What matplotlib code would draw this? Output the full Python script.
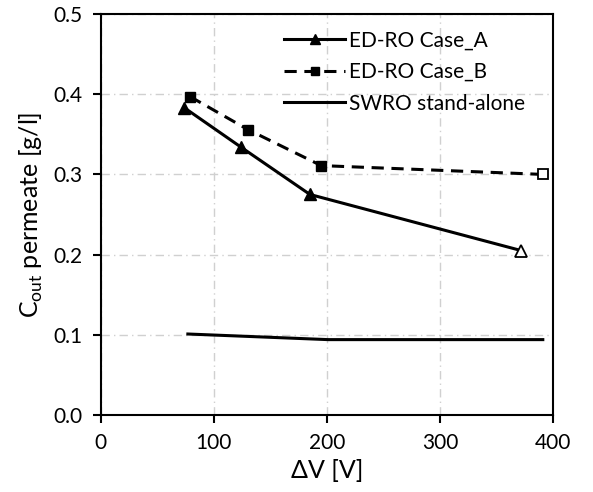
import matplotlib
matplotlib.use("Agg")
import matplotlib.pyplot as plt

plt.rcParams["font.family"] = ["Lato", "DejaVu Sans"]

# data
dv_a = [74, 124, 185, 372]
c_a = [0.383, 0.334, 0.275, 0.205]
dv_b = [79, 130, 195, 391]
c_b = [0.397, 0.356, 0.311, 0.300]
dv_swro = [77, 201, 391]
c_swro = [0.101, 0.094, 0.094]

fig = plt.figure(figsize=(5.93, 4.92), dpi=100)
ax = fig.add_axes([0.170, 0.1565, 0.7625, 0.815])

ax.plot(dv_a, c_a, color="black", lw=2.2, marker="^", ms=8,
        markevery=[0, 1, 2], label="ED-RO Case_A")
ax.plot(dv_a[-1:], c_a[-1:], ls="none", marker="^", ms=8,
        mfc="white", mec="black", mew=1.3)
ax.plot(dv_b, c_b, color="black", lw=2.2, ls=(0, (4, 2.5)), marker="s", ms=7.5,
        markevery=[0, 1, 2], label="ED-RO Case_B")
ax.plot(dv_b[-1:], c_b[-1:], ls="none", marker="s", ms=7.5,
        mfc="white", mec="black", mew=1.3)
ax.plot(dv_swro, c_swro, color="black", lw=2.2, label="SWRO stand-alone")

ax.set_xlim(0, 400)
ax.set_ylim(0, 0.5)
ax.set_xticks([0, 100, 200, 300, 400])
ax.set_yticks([0.0, 0.1, 0.2, 0.3, 0.4, 0.5])
ax.set_yticklabels([f"{v:.1f}" for v in ax.get_yticks()])
ax.grid(True, color="#d0d0d0", ls=(0, (6, 3, 1, 3)), lw=1)
ax.set_axisbelow(True)
for s in ax.spines.values():
    s.set_linewidth(1.5)
ax.tick_params(direction="out", length=6, width=1.5, labelsize=15, pad=7)

ax.set_xlabel("ΔV [V]", fontsize=18, labelpad=4)
ax.set_ylabel(r"C$_{\mathregular{out}}$ permeate [g/l]", fontsize=18, labelpad=6)

ax.legend(loc="upper right", frameon=False, fontsize=15, handlelength=2.9,
          borderaxespad=0.4, labelspacing=0.55, handletextpad=0.2,
          markerscale=0.85, bbox_to_anchor=(0.975, 1.0))

fig.savefig("out.png", dpi=100)
